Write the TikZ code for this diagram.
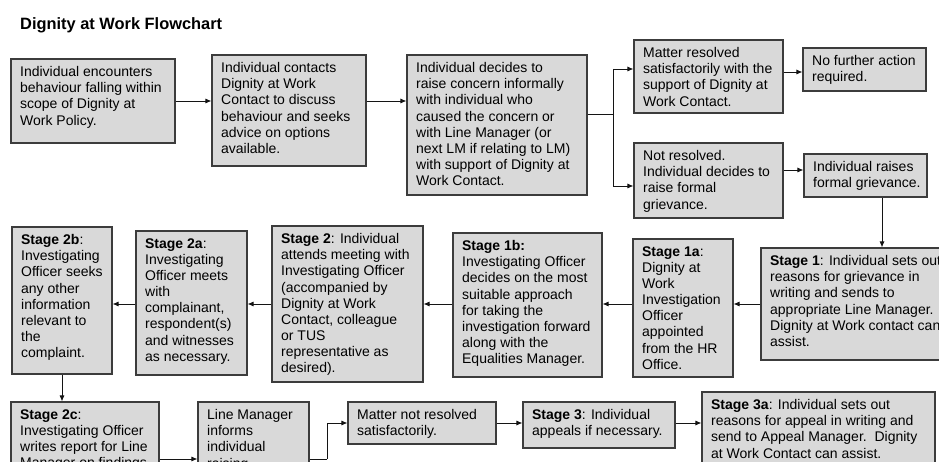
\documentclass[tikz,border=0pt]{standalone}
\usepackage{fontspec}
\setmainfont{Liberation Sans}
\usetikzlibrary{fit,arrows.meta}
\definecolor{boxfill}{RGB}{217,217,217}
\definecolor{boxline}{RGB}{60,60,60}
\definecolor{arrline}{RGB}{20,20,20}
\tikzset{
  box/.style={draw=boxline, fill=boxfill, line width=1.1pt, inner sep=0pt},
  txt/.style={anchor=north west, inner sep=0pt, align=left, font=\fontsize{14}{16.1}\selectfont},
  arr/.style={draw=arrline, line width=0.9pt, -{Latex[length=6pt,width=5pt]}},
  ln/.style={draw=arrline, line width=0.9pt}
}
\newcommand\flowbox[6]{%
  \node[box, fit={(#2,#3) (#4,#5)}] (#1) {};
  \node[txt] (#1t) at ([xshift=9.5pt,yshift=-8pt]#1.north west) {#6};}
\begin{document}
\begin{tikzpicture}[x=1pt,y=-1pt]
\useasboundingbox (0,0) rectangle (939,462);
\fill[white] (0,0) rectangle (939,462);
\clip (0,0) rectangle (939,462);

\node[anchor=base west, inner sep=0pt, font=\bfseries\fontsize{16.4}{19}\selectfont] (title) at (20,29.5) {Dignity at Work Flowchart};

\flowbox{b1}{11}{59}{175}{143}{Individual encounters\\behaviour falling within\\scope of Dignity at\\Work Policy.}
\flowbox{b2}{212}{55}{366}{166}{Individual contacts\\Dignity at Work\\Contact to discuss\\behaviour and seeks\\advice on options\\available.}
\flowbox{b3}{407}{55}{587}{195}{Individual decides to\\raise concern informally\\with individual who\\caused the concern or\\with Line Manager (or\\next LM if relating to LM)\\with support of Dignity at\\Work Contact.}
\flowbox{b4}{634}{40}{783}{113}{Matter resolved\\satisfactorily with the\\support of Dignity at\\Work Contact.}
\flowbox{b5}{803}{48}{926}{91}{No further action\\required.}
\flowbox{b6}{634}{143}{783}{218}{Not resolved.\\Individual decides to\\raise formal\\grievance.}
\flowbox{b7}{804}{154}{927}{197}{Individual raises\\formal grievance.}

\flowbox{s1}{761}{248}{965}{360}{\textbf{Stage 1}: Individual sets out\\reasons for grievance in\\writing and sends to\\appropriate Line Manager.\\Dignity at Work contact can\\assist.}
\flowbox{s1a}{633}{239}{733}{377}{\textbf{Stage 1a}:\\Dignity at\\Work\\Investigation\\Officer\\appointed\\from the HR\\Office.}
\flowbox{s1b}{453}{233}{602}{377}{\textbf{Stage 1b:}\\Investigating Officer\\decides on the most\\suitable approach\\for taking the\\investigation forward\\along with the\\Equalities Manager.}
\flowbox{s2}{272}{226}{423}{382}{\textbf{Stage 2}: Individual\\attends meeting with\\Investigating Officer\\(accompanied by\\Dignity at Work\\Contact, colleague\\or TUS\\representative as\\desired).}
\flowbox{s2a}{136}{231}{247}{375}{\textbf{Stage 2a}:\\Investigating\\Officer meets\\with\\complainant,\\respondent(s)\\and witnesses\\as necessary.}
\flowbox{s2b}{12}{227}{112}{374}{\textbf{Stage 2b}:\\Investigating\\Officer seeks\\any other\\information\\relevant to\\the\\complaint.}

\flowbox{s2c}{11}{402}{159}{490}{\textbf{Stage 2c}:\\Investigating Officer\\writes report for Line\\Manager on findings}
\flowbox{lm}{198}{402}{309}{490}{Line Manager\\informs\\individual\\raising}
\flowbox{mnr}{348}{402}{496}{444}{Matter not resolved\\satisfactorily.}
\flowbox{s3}{523}{402}{675}{448}{\textbf{Stage 3}: Individual\\appeals if necessary.}
\flowbox{s3a}{702}{392}{935}{475}{\textbf{Stage 3a}: Individual sets out\\reasons for appeal in writing and\\send to Appeal Manager.\ \ Dignity\\at Work Contact can assist.}

% connectors, row 1
\draw[arr] (b1.east) -- (b1.east -| b2.west);
\draw[arr] (b1.east -| b2.east) -- (b1.east -| b3.west);
\coordinate (br) at (613,114);
\coordinate (brup) at (613,69);
\coordinate (brdn) at (613,186);
\draw[ln] (b3.east |- br) -- (br);
\draw[ln] (brup) -- (brdn);
\draw[arr] (brup) -- (brup -| b4.west);
\draw[arr] (brdn) -- (brdn -| b6.west);
\coordinate (r45) at (790,72);
\draw[arr] (r45 -| b4.east) -- (r45 -| b5.west);
\coordinate (r67) at (790,170);
\draw[arr] (r67 -| b6.east) -- (r67 -| b7.west);
\coordinate (dn) at (882,220);
\draw[arr] (dn |- b7.south) -- (dn |- s1.north);

% row 2
\coordinate (r2) at (0,304);
\draw[arr] (r2 -| s1.west) -- (r2 -| s1a.east);
\draw[arr] (r2 -| s1a.west) -- (r2 -| s1b.east);
\draw[arr] (r2 -| s1b.west) -- (r2 -| s2.east);
\draw[arr] (r2 -| s2.west) -- (r2 -| s2a.east);
\draw[arr] (r2 -| s2a.west) -- (r2 -| s2b.east);
\coordinate (c2) at (62,390);
\draw[arr] (c2 |- s2b.south) -- (c2 |- s2c.north);

% row 3
\coordinate (r3) at (0,459);
\draw[arr] (r3 -| s2c.east) -- (r3 -| lm.west);
\coordinate (lmj) at (327,459);
\coordinate (r4) at (0,423);
\draw[ln] (r3 -| lm.east) -- (lmj);
\draw[arr] (lmj) |- (r4 -| mnr.west);
\draw[arr] (r4 -| mnr.east) -- (r4 -| s3.west);
\draw[arr] (r4 -| s3.east) -- (r4 -| s3a.west);
\end{tikzpicture}
\end{document}
